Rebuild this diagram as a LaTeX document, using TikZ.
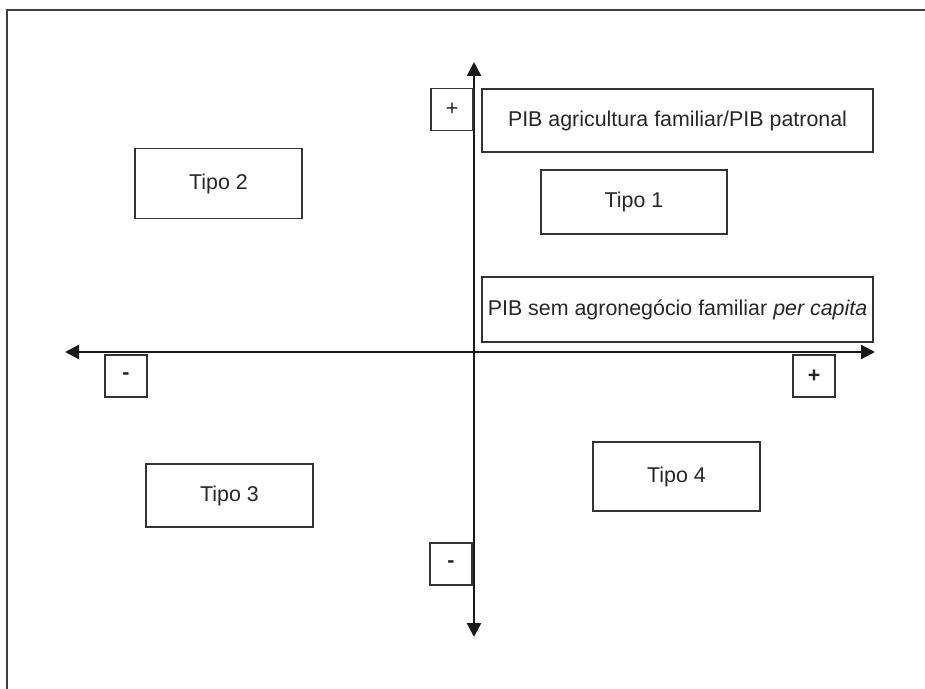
\documentclass[tikz,border=0pt]{standalone}
\usepackage{fontspec}
\setmainfont{Liberation Sans}
\usetikzlibrary{arrows.meta}

\begin{document}
\begin{tikzpicture}[x=0.5pt, y=-0.5pt, line join=miter,
	every node/.style={font=\fontsize{10.7}{12}\selectfont, text=black!85, inner sep=0pt},
	box/.style={draw=black!80, line width=0.7pt},
	signbox/.style={box, minimum width=21pt, minimum height=21pt}]
	\useasboundingbox (0,0) rectangle (925,689);
	\draw[black!75, line width=0.8pt] (7,689) -- (7,10) -- (925,10);
	% axes
	\coordinate (xl) at (65,352); \coordinate (xr) at (875,352);
	\coordinate (yt) at (474,62); \coordinate (yb) at (474,637);
	\draw[line width=1.2pt, black!90, {Triangle[length=7pt,width=7pt]}-{Triangle[length=7pt,width=7pt]}] (xl) -- (xr);
	\draw[line width=1.2pt, black!90, {Triangle[length=7pt,width=7pt]}-{Triangle[length=7pt,width=7pt]}] (yb) -- (yt);
	% signs
	\node[signbox] (plusT) at (452,109.5) {+};
	\foreach \n/\p/\s in {minusL/{126,376}/-, plusR/{814,376}/+, minusB/{451,564}/-} {\node[signbox, font=\fontsize{10.7}{12}\selectfont\bfseries] (\n) at (\p) {\s};}
	% boxes
	\node[box, minimum width=195.5pt, minimum height=31.5pt] (pibA) at (677.5,120.5) {PIB agricultura familiar/PIB patronal};
	\node[box, minimum width=195.5pt, minimum height=32.5pt] (pibS) at (677.5,309.5) {PIB sem agronegócio familiar \textit{per capita}};
	\node[box, minimum width=93pt, minimum height=32pt] (tipo1) at (634,202) {Tipo 1};
	\node[box, minimum width=83.5pt, minimum height=35pt] (tipo2) at (218.5,183.5) {Tipo 2};
	\node[box, minimum width=83.5pt, minimum height=31.5pt] (tipo3) at (229.5,495.5) {Tipo 3};
	\node[box, minimum width=83.5pt, minimum height=34.5pt] (tipo4) at (676.5,476.5) {Tipo 4};
\end{tikzpicture}
\end{document}
